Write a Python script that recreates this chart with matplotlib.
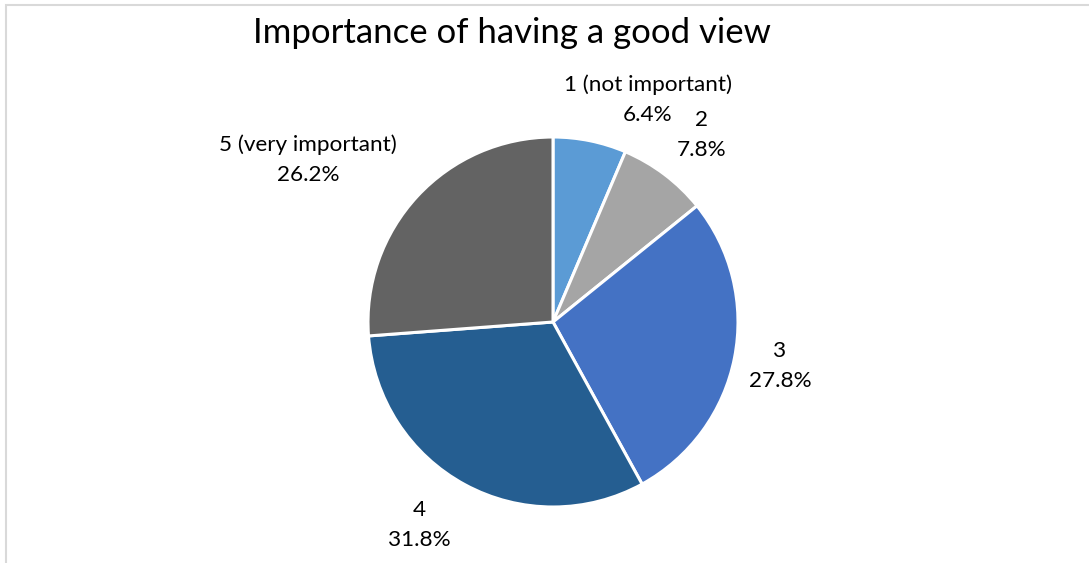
import matplotlib
matplotlib.use("Agg")
import matplotlib.pyplot as plt
from matplotlib.patches import Rectangle

# survey answers, share of respondents (%)
categories = ["1 (not important)", "2", "3", "4", "5 (very important)"]
shares = [6.4, 7.8, 27.8, 31.8, 26.2]
colors = ["#5B9BD5", "#A5A5A5", "#4472C4", "#255E91", "#636363"]

# label block centres in pixels (x, y from top)
label_pos = [(648, 100), (702, 135), (780, 366), (419, 525), (308, 160)]

W, H = 1089, 563
plt.rcParams['font.family'] = ['Lato', 'DejaVu Sans']

fig = plt.figure(figsize=(W / 100, H / 100), dpi=100)

# chart area frame (runs off the right/bottom edge)
fig.patches.append(Rectangle((5.5 / W, -0.1), 1.2, 1.1 - 5.5 / H,
                             transform=fig.transFigure, fill=False,
                             edgecolor="#D9D9D9", linewidth=1.5))

cx, cy, r = 553, 322, 185
ax = fig.add_axes([(cx - r) / W, (H - cy - r) / H, 2 * r / W, 2 * r / H])
ax.pie(shares, colors=colors, startangle=90, counterclock=False,
       radius=1, wedgeprops=dict(edgecolor="white", linewidth=2.2))
ax.set_xlim(-1, 1)
ax.set_ylim(-1, 1)
ax.set_aspect("equal")
ax.axis("off")

# category name above, percentage below
gap = 15
for cat, val, (px, py) in zip(categories, shares, label_pos):
    fig.text(px / W, 1 - (py - gap) / H, cat, ha="center", va="center",
             fontsize=16.2, color="#000000")
    fig.text(px / W, 1 - (py + gap) / H, f"{val:.1f}%", ha="center",
             va="center", fontsize=16.2, color="#000000")

fig.text(512 / W, 1 - 33 / H, "Importance of having a good view",
         ha="center", va="center", fontsize=25, color="#000000")

fig.savefig("out.png", dpi=100)
